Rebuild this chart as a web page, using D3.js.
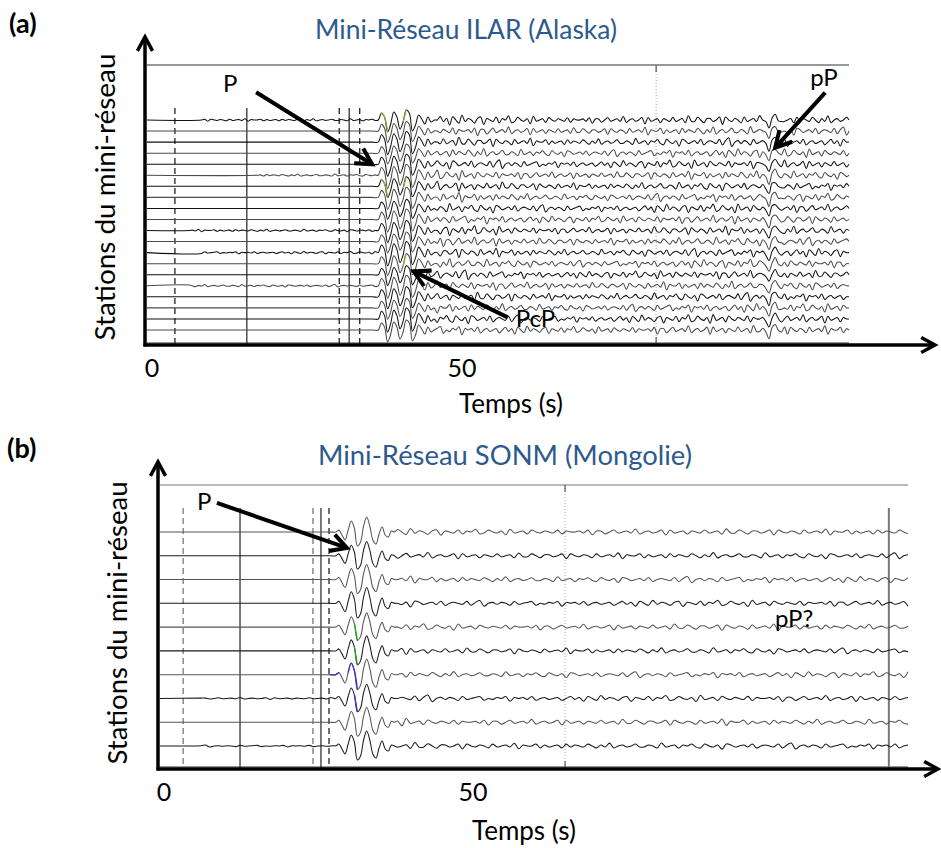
<!DOCTYPE html>
<html><head><meta charset="utf-8">
<script src="https://cdn.jsdelivr.net/npm/d3@7"></script>
<style>
body{margin:0;background:#fff}
svg{display:block}
text{font-family:Lato,"Open Sans",sans-serif}
</style>
</head><body>
<svg id="c" width="941" height="848"></svg>
<script>
// ---------------- DATA ----------------
const xTickValues = [0, 50];
const xTickLabels = ["0", "50"];
const titleA = "Mini-Réseau ILAR (Alaska)";
const titleB = "Mini-Réseau SONM (Mongolie)";
const yLabel = "Stations du mini-réseau";
const xLabel = "Temps (s)";

// number of stations per mini-array
const stationsA = d3.range(20);
const stationsB = d3.range(10);

// vertical marker lines (time in s) and their kind
const markerTimesA = [3.7, 15.3, 30.2, 31.8, 33.5];
const markerKindsA = ["dash", "solid", "dash", "solid", "dash"];
const markerTimesB = [3.1, 12.3, 24.1, 25.4, 26.7];
const markerKindsB = ["dashgray", "solid", "dashgray", "solid", "dash"];
const dottedTimeA = 81.3;
const dottedTimeB = 64.9;
const endLineTimeB = 117.3;

// P-wave onsets (s) and wavelets (amplitude, 0.5 s sampling, up = positive)
const onsetA = 36.5;
const pulseA = [0, 7, 3, -12, -4, 8, 3, -9, -2, 10, 7, -11, -5, 5, 1, -4, 3, -2, 0];
const onsetB = 27.8;
const pulseB = [0, 2, -3, -8, 2, 11, 4, -14, -10, 6, 15, 6, -8, -12, -2, 5, -3, -5, 1, 0];

// depth phase pP wavelet in (a) (0.5 s sampling)
const ppStartA = 98.5;
const ppWaveA = [1, -2, -8, 2, 5, 0, -2];

// per-station amplitude factors
const ampA = [1.0, 0.95, 1.05, 0.9, 1.0, 1.1, 0.95, 1.0, 0.9, 1.05, 1.0, 0.95, 1.1, 1.0, 0.9, 1.05, 1.0, 0.95, 1.1, 1.0];
const ampB = [1.0, 0.95, 1.0, 1.05, 0.95, 1.0, 1.05, 0.95, 1.0, 1.0];

// background noise samples (read as typical wiggles of the records)
const noise = [
0,2,-1,1,-3,2,0,-2,3,-1,1,0,-2,1,2,-3,1,0,-1,2,
-2,1,0,3,-2,-1,2,0,-1,1,-3,3,-1,0,1,-2,2,0,-1,1,
0,-1,2,-2,1,0,0,1,-1,2,-3,1,1,-2,0,2,-1,0,1,-1,
3,-2,0,1,-1,0,2,-3,2,-1,0,1,-2,1,0,-1,2,-1,0,1,
-2,3,-1,-1,2,0,-2,1,1,-1,0,2,-3,2,0,-1,1,0,-2,2,
-1,0,1,-1,3,-3,1,0,0,2,-2,1,-1,0,1,-2,2,-1,1,0,
-1,2,0,-2,1,-1,3,-2,0,1,-1,0,2,-1,-1,1,0,-2,3,-1,
0,1,-2,1,0,2,-1,-2,2,0,-1,1,-3,2,1,-1,0,1,-1,2,
-2,0,1,0,-1,2,-2,1,3,-3,0,1,-1,1,0,-2,2,-1,0,1,
2,-2,0,-1,1,0,2,-3,1,0,1,-1,2,-2,0,1,-1,0,1,-2
];
const noiseOffsetA = [0, 37, 74, 111, 148, 23, 60, 97, 134, 171, 11, 48, 85, 122, 159, 31, 68, 105, 142, 179];
const noiseOffsetB = [5, 53, 101, 149, 17, 65, 113, 161, 29, 77];

// coda envelope (time s, relative level)
const envTimesA = [44, 55, 62, 72, 82, 95, 112];
const envLevelsA = [1.3, 1.1, 0.9, 0.8, 1.0, 1.1, 1.0];
const envTimesB = [37, 50, 70, 90, 120];
const envLevelsB = [1.2, 0.9, 0.9, 1.0, 0.9];

// stations with weak noise before the P onset, and its start time (s)
const preNoiseA = [0, 5, 10, 12, 15];
const preStartA = [8, 17, 6, 8, 6];
const preNoiseB = [7, 9];
const preStartB = [6, 6];

// annotations: label, time of arrow tip (s), station index of arrow tip
const annoTextA = ["P", "pP", "PcP"];
const annoTimeA = [35.5, 100.5, 42.2];
const annoStationA = [4, 2.5, 13.7];
const annoTextB = ["P", "pP?"];
const annoTimeB = [29.6];
const annoStationB = [0.67];

// ---------------- DRAWING ----------------
const svg = d3.select("#c");
const BLUE = "#2d5a8e";

function fitWidth(sel, w) {
  const cur = sel.node().getComputedTextLength();
  const fs = parseFloat(sel.attr("font-size"));
  sel.attr("font-size", (fs * w / cur).toFixed(2));
}

function arrowHead(g, x1, y1, x2, y2, len, width, color) {
  const a = Math.atan2(y2 - y1, x2 - x1);
  const s = 0.5;
  const p1 = [x2 - len * Math.cos(a - s), y2 - len * Math.sin(a - s)];
  const p2 = [x2 - len * Math.cos(a + s), y2 - len * Math.sin(a + s)];
  g.append("path")
    .attr("d", `M${p1[0]},${p1[1]}L${x2},${y2}L${p2[0]},${p2[1]}`)
    .attr("fill", "none").attr("stroke", color).attr("stroke-width", width)
    .attr("stroke-linejoin", "miter").attr("stroke-linecap", "square");
}

function arrow(g, x1, y1, x2, y2, width, head) {
  g.append("line").attr("x1", x1).attr("y1", y1).attr("x2", x2).attr("y2", y2)
    .attr("stroke", "#000").attr("stroke-width", width);
  arrowHead(g, x1, y1, x2, y2, head, width, "#000");
}

function panel(cfg) {
  const g = svg.append("g");
  const x = d3.scaleLinear().domain(cfg.domain).range(cfg.xRange);
  const yS = d3.scaleLinear().domain([0, cfg.stations.length - 1]).range(cfg.yRange);
  const amp = d3.scaleLinear().domain([0, 1]).range([0, cfg.unit]);
  const env = d3.scaleLinear().domain(cfg.envT).range(cfg.envL).clamp(true);
  const [L, R] = cfg.xRange;

  g.append("line").attr("x1", L).attr("x2", R).attr("y1", cfg.frameTop).attr("y2", cfg.frameTop)
    .attr("stroke", cfg.frameColor).attr("stroke-width", 1.2);
  g.append("line").attr("x1", L).attr("x2", R).attr("y1", cfg.axisY - 2).attr("y2", cfg.axisY - 2)
    .attr("stroke", "#999").attr("stroke-width", 2);

  const xd = x(cfg.dotted);
  g.append("line").attr("x1", xd).attr("x2", xd).attr("y1", cfg.frameTop).attr("y2", cfg.axisY)
    .attr("stroke", "#aaa").attr("stroke-width", 1).attr("stroke-dasharray", "1,2");
  g.append("line").attr("x1", xd).attr("x2", xd).attr("y1", cfg.frameTop).attr("y2", cfg.frameTop + 7)
    .attr("stroke", "#555").attr("stroke-width", 1.2);
  g.append("line").attr("x1", xd).attr("x2", xd).attr("y1", cfg.axisY - 8).attr("y2", cfg.axisY)
    .attr("stroke", "#555").attr("stroke-width", 1.2);

  cfg.markerT.forEach((t, i) => {
    const k = cfg.markerK[i];
    g.append("line").attr("x1", x(t)).attr("x2", x(t)).attr("y1", cfg.markerTop).attr("y2", cfg.axisY)
      .attr("stroke", k === "dashgray" ? "#777" : "#222")
      .attr("stroke-width", k === "solid" ? 1.2 : 1.3)
      .attr("stroke-dasharray", k === "solid" ? null : "6,4");
  });
  if (cfg.endLine != null) {
    g.append("line").attr("x1", x(cfg.endLine)).attr("x2", x(cfg.endLine))
      .attr("y1", cfg.markerTop).attr("y2", cfg.axisY)
      .attr("stroke", "#777").attr("stroke-width", 2);
  }

  const line = d3.line().x(d => x(d[0])).y(d => d[1]).curve(d3.curveCatmullRom.alpha(0.5));
  const t0 = cfg.domain[0], t1 = cfg.domain[1];
  const N = noise.length;
  cfg.stations.forEach(k => {
    const base = yS(k);
    const pts = [];
    const pi = cfg.preNoise.indexOf(k);
    pts.push([t0, base]);
    if (pi >= 0) {
      let i = 0;
      for (let t = cfg.preStart[pi]; t < cfg.onset; t += cfg.step, i++) {
        pts.push([t, base - amp(noise[(cfg.off[k] + 90 + i) % N] * 0.3)]);
      }
    } else {
      pts.push([cfg.onset - 1, base]);
    }
    cfg.pulse.forEach((v, i) => pts.push([cfg.onset + i * 0.5, base - v * cfg.ampK[k]]));
    const tc = cfg.onset + cfg.pulse.length * 0.5;
    let i = 0;
    for (let t = tc; t <= t1 + 0.001; t += cfg.step, i++) {
      let v = amp(noise[(cfg.off[k] + i) % N] * env(t));
      if (cfg.pp) {
        const j = Math.round((t - cfg.ppStart) / 0.5);
        if (j >= 0 && j < cfg.pp.length) v = cfg.pp[j] * cfg.ampK[k] + amp(noise[(cfg.off[k] + i) % N] * 0.3);
      }
      pts.push([t, base - v]);
    }
    if (pts[pts.length - 1][0] < t1) pts.push([t1, base]);
    g.append("path").attr("d", line(pts)).attr("fill", "none")
      .attr("stroke", k % 2 === 0 ? cfg.c1 : cfg.c2).attr("stroke-width", 1.05)
      .attr("stroke-linejoin", "round");
    (cfg.picks[k] || []).forEach(pk => {
      const sub = pts.filter(p => p[0] >= pk[0] && p[0] <= pk[1]);
      g.append("path").attr("d", line(sub)).attr("fill", "none")
        .attr("stroke", pk[2]).attr("stroke-width", 1.3);
    });
  });

  const ax = g.append("g");
  ax.append("line").attr("x1", cfg.axisX).attr("x2", cfg.axisX).attr("y1", cfg.axisY + 1.5).attr("y2", cfg.yArrowTop)
    .attr("stroke", "#000").attr("stroke-width", 3.5);
  arrowHead(ax, cfg.axisX, cfg.axisY, cfg.axisX, cfg.yArrowTop, 14, 3.5, "#000");
  ax.append("line").attr("x1", cfg.axisX - 1.5).attr("x2", cfg.xArrowEnd).attr("y1", cfg.axisY).attr("y2", cfg.axisY)
    .attr("stroke", "#000").attr("stroke-width", 3.5);
  arrowHead(ax, cfg.axisX, cfg.axisY, cfg.xArrowEnd, cfg.axisY, 14, 3.5, "#000");

  xTickValues.forEach((v, i) => {
    g.append("text").attr("x", x(v)).attr("y", cfg.tickY).attr("text-anchor", "middle")
      .attr("font-size", 25).attr("fill", "#000").text(xTickLabels[i]);
  });
  g.append("text").attr("x", cfg.xLabelX).attr("y", cfg.xLabelY)
    .attr("font-size", 26).attr("fill", "#000").text(xLabel);
  const yl = g.append("text").attr("transform", `translate(${cfg.yLabelX},${cfg.yLabelY}) rotate(-90)`)
    .attr("text-anchor", "middle").attr("font-size", 24).attr("fill", "#000").text(yLabel);
  fitWidth(yl, cfg.yLabelW);
  const tt = g.append("text").attr("x", cfg.titleX).attr("y", cfg.titleY).attr("text-anchor", "middle")
    .attr("font-size", 22).attr("fill", BLUE).text(cfg.title);
  fitWidth(tt, cfg.titleW);
  g.append("text").attr("x", cfg.letterX).attr("y", cfg.letterY).attr("font-size", 27)
    .attr("font-weight", "bold").attr("fill", "#000").text(cfg.letter);

  return { g, x, yS };
}

const A = panel({
  domain: [-0.8, 112.4], xRange: [147, 849], yRange: [120, 330],
  stations: stationsA, unit: 1.35, envT: envTimesA, envL: envLevelsA,
  frameTop: 65, frameColor: "#333", axisY: 345, axisX: 145, yArrowTop: 37, xArrowEnd: 935,
  dotted: dottedTimeA, markerT: markerTimesA, markerK: markerKindsA, markerTop: 108, endLine: null,
  onset: onsetA, pulse: pulseA, ampK: ampA, step: 0.5, off: noiseOffsetA,
  pp: ppWaveA, ppStart: ppStartA, preNoise: preNoiseA, preStart: preStartA,
  c1: "#111", c2: "#4a4a4a",
  picks: { 0: [[37, 38.3, "#a8a040"], [40.3, 41.2, "#a8a040"]], 6: [[37, 38, "#a8a040"], [40.3, 41, "#a8a040"]], 13: [[40.3, 41, "#a8a040"]] },
  tickY: 377, xLabelX: 459, xLabelY: 413,
  yLabelX: 115, yLabelY: 197, yLabelW: 287,
  title: titleA, titleX: 466, titleY: 39, titleW: 302,
  letter: "(a)", letterX: 9, letterY: 33
});

const B = panel({
  domain: [-0.65, 120.4], xRange: [160, 908], yRange: [532, 746],
  stations: stationsB, unit: 1.05, envT: envTimesB, envL: envLevelsB,
  frameTop: 485, frameColor: "#777", axisY: 769, axisX: 158, yArrowTop: 462, xArrowEnd: 938,
  dotted: dottedTimeB, markerT: markerTimesB, markerK: markerKindsB, markerTop: 508, endLine: endLineTimeB,
  onset: onsetB, pulse: pulseB, ampK: ampB, step: 0.7, off: noiseOffsetB,
  pp: null, ppStart: 0, preNoise: preNoiseB, preStart: preStartB,
  c1: "#555", c2: "#1a1a1a",
  picks: { 4: [[30.8, 31.4, "#2a2"]], 5: [[30.8, 31.5, "#2a2"]], 6: [[24.1, 28.3, "#33c"], [29.8, 31.5, "#33c"]], 7: [[30.8, 31.6, "#33c"]] },
  tickY: 801, xLabelX: 472, xLabelY: 840,
  yLabelX: 127, yLabelY: 623, yLabelW: 283,
  title: titleB, titleX: 505, titleY: 465, titleW: 374,
  letter: "(b)", letterX: 7, letterY: 458
});

const ga = svg.append("g");
{
  const tipP = [A.x(annoTimeA[0]), A.yS(annoStationA[0])];
  ga.append("text").attr("x", tipP[0] - 149).attr("y", tipP[1] - 72).attr("font-size", 24).text(annoTextA[0]);
  arrow(ga, tipP[0] - 116, tipP[1] - 72, tipP[0], tipP[1], 4, 16);
  const tipPP = [A.x(annoTimeA[1]), A.yS(annoStationA[1])];
  ga.append("text").attr("x", tipPP[0] + 35).attr("y", tipPP[1] - 62).attr("font-size", 24).text(annoTextA[1]);
  arrow(ga, tipPP[0] + 50, tipPP[1] - 55, tipPP[0], tipPP[1], 4, 16);
  const tipC = [A.x(annoTimeA[2]), A.yS(annoStationA[2])];
  ga.append("text").attr("x", tipC[0] + 102).attr("y", tipC[1] + 56).attr("font-size", 24).text(annoTextA[2]);
  arrow(ga, tipC[0] + 94, tipC[1] + 46, tipC[0], tipC[1], 4, 16);
}
{
  const tip = [B.x(annoTimeB[0]), B.yS(annoStationB[0])];
  ga.append("text").attr("x", tip[0] - 150).attr("y", tip[1] - 38).attr("font-size", 24).text(annoTextB[0]);
  arrow(ga, tip[0] - 130, tip[1] - 45, tip[0], tip[1], 4, 16);
  ga.append("text").attr("x", 775).attr("y", 627).attr("font-size", 24).text(annoTextB[1]);
}
</script>
</body></html>
